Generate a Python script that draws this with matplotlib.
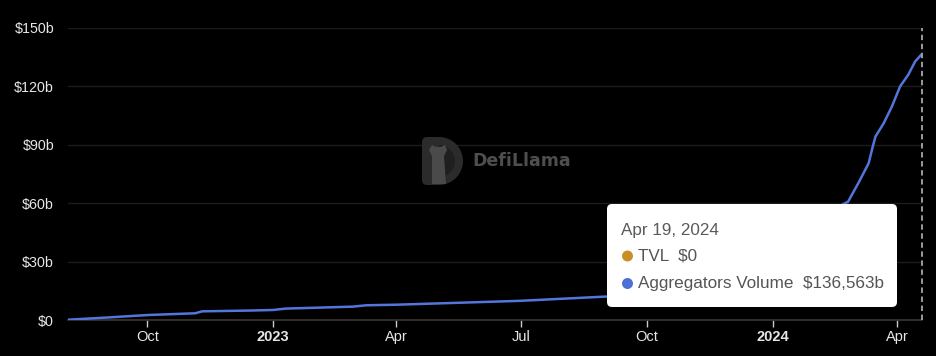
import matplotlib
matplotlib.use("Agg")
import matplotlib.pyplot as plt
from matplotlib.patches import FancyBboxPatch, Circle, Wedge, Polygon
from matplotlib.transforms import IdentityTransform
import datetime as dt

plt.rcParams['font.family'] = ['Liberation Sans', 'DejaVu Sans']

# ---- data ----
dates = ['2022-08-04', '2022-09-01', '2022-10-01', '2022-11-05', '2022-11-10',
         '2022-12-15', '2023-01-01', '2023-01-10', '2023-02-28', '2023-03-10',
         '2023-04-01', '2023-05-17', '2023-07-01', '2023-09-02', '2023-10-01',
         '2023-11-01', '2023-12-01', '2024-01-01', '2024-02-01', '2024-02-20',
         '2024-02-25', '2024-03-04', '2024-03-11', '2024-03-14', '2024-03-16',
         '2024-03-22', '2024-03-28', '2024-04-03', '2024-04-09', '2024-04-14',
         '2024-04-19']
volume_b = [0.3, 1.4, 2.7, 3.6, 4.6, 5.0, 5.3, 6.0, 7.0, 7.7,
            8.0, 9.0, 10.0, 12.2, 13.5, 16.0, 20.0, 27.0, 44.0, 59.0,
            60.8, 71.0, 80.5, 89.0, 94.2, 101.0, 109.6, 119.9, 125.9, 132.7,
            136.563]
y_ticks = [0, 30, 60, 90, 120, 150]
y_labels = ['$0', '$30b', '$60b', '$90b', '$120b', '$150b']
x_ticks = ['2022-10-01', '2023-01-01', '2023-04-01', '2023-07-01', '2023-10-01',
           '2024-01-01', '2024-04-01']
x_labels = ['Oct', '2023', 'Apr', 'Jul', 'Oct', '2024', 'Apr']
x_bold = [False, True, False, False, False, True, False]
tooltip_date = 'Apr 19, 2024'
tooltip_rows = [('TVL', '$0', '#c98f26'), ('Aggregators Volume', '$136,563b', '#4e6fd6')]

W, H = 936, 356
fig = plt.figure(figsize=(W / 100, H / 100), dpi=100, facecolor='black')
ax = fig.add_axes([68 / W, (H - 320.3) / H, (922 - 68) / W, (320.3 - 27.7) / H])
ax.set_facecolor('black')

d = [dt.datetime.strptime(s, '%Y-%m-%d') for s in dates]
ax.plot(d, volume_b, color='#5476dc', lw=1.8, solid_capstyle='round',
        solid_joinstyle='round', zorder=3)

ax.set_xlim(dt.datetime(2022, 8, 4), dt.datetime(2024, 4, 19))
ax.set_ylim(0, 150)

ax.set_yticks(y_ticks)
ax.set_yticklabels(y_labels)
ax.tick_params(axis='y', length=0, pad=10, labelsize=10.3, labelcolor='#e6e6e6')
ax.grid(axis='y', color='#1c1c1c', lw=1)
ax.set_axisbelow(True)

xt = [dt.datetime.strptime(s, '%Y-%m-%d') for s in x_ticks]
ax.set_xticks(xt)
ax.set_xticklabels(x_labels)
for lab, b in zip(ax.get_xticklabels(), x_bold):
    if b:
        lab.set_fontweight('bold')
ax.tick_params(axis='x', length=5, width=1, color='#cccccc', pad=2,
               labelsize=10.5, labelcolor='#e6e6e6')

for s in ['top', 'right', 'left']:
    ax.spines[s].set_visible(False)
ax.spines['bottom'].set_color('#3e3730')
ax.spines['bottom'].set_linewidth(1.2)

# dashed cursor line
ax.axvline(dt.datetime(2024, 4, 19), color='#a8a8a8', lw=1.3, ls=(0, (3, 2)),
           zorder=4, clip_on=False)

PX = IdentityTransform()


def py(y):
    return H - y


# watermark logo (pixel coords)
fig.patches.append(FancyBboxPatch((422, py(185)), 20, 48,
                                  boxstyle='round,pad=0,rounding_size=5',
                                  transform=PX, facecolor='#2b2b2b',
                                  edgecolor='none', zorder=1))
fig.patches.append(Wedge((439, py(161)), 24, -90, 90, transform=PX,
                         facecolor='#2b2b2b', edgecolor='none', zorder=1))
fig.patches.append(Wedge((439, py(161)), 16, -90, 90, transform=PX,
                         facecolor='#1f1f1f', edgecolor='none', zorder=1))
llama = [(432, py(184)), (432, py(156)), (429, py(150)), (432, py(145)),
         (436, py(147)), (441, py(147)), (445, py(145)), (447, py(150)),
         (444, py(156)), (446, py(184))]
fig.patches.append(Polygon(llama, closed=True, transform=PX, facecolor='#4a4a4a',
                           edgecolor='none', zorder=1))
fig.text(472 / W, 1 - 161 / H, 'DefiLlama', color='#4e4e4e', fontsize=12.5,
         fontweight='bold', ha='left', va='center', family='DejaVu Sans', zorder=1)

# tooltip
fig.patches.append(FancyBboxPatch((607, py(307)), 290, 103,
                                  boxstyle='round,pad=0,rounding_size=5',
                                  transform=PX, facecolor='white',
                                  edgecolor='none', zorder=10))
fig.text(621 / W, 1 - 230 / H, tooltip_date, color='#5a5a5a', fontsize=12.3,
         ha='left', va='center', zorder=11)
for i, (name, val, col) in enumerate(tooltip_rows):
    yy = 256 + i * 27.5
    fig.patches.append(Circle((627.5, py(yy)), 5.5, transform=PX,
                              facecolor=col, edgecolor='none', zorder=11))
    fig.text(638 / W, 1 - yy / H, name + '  ' + val, color='#555555', fontsize=12.3,
             ha='left', va='center', zorder=11)

fig.savefig('out.png', dpi=100, facecolor='black')
